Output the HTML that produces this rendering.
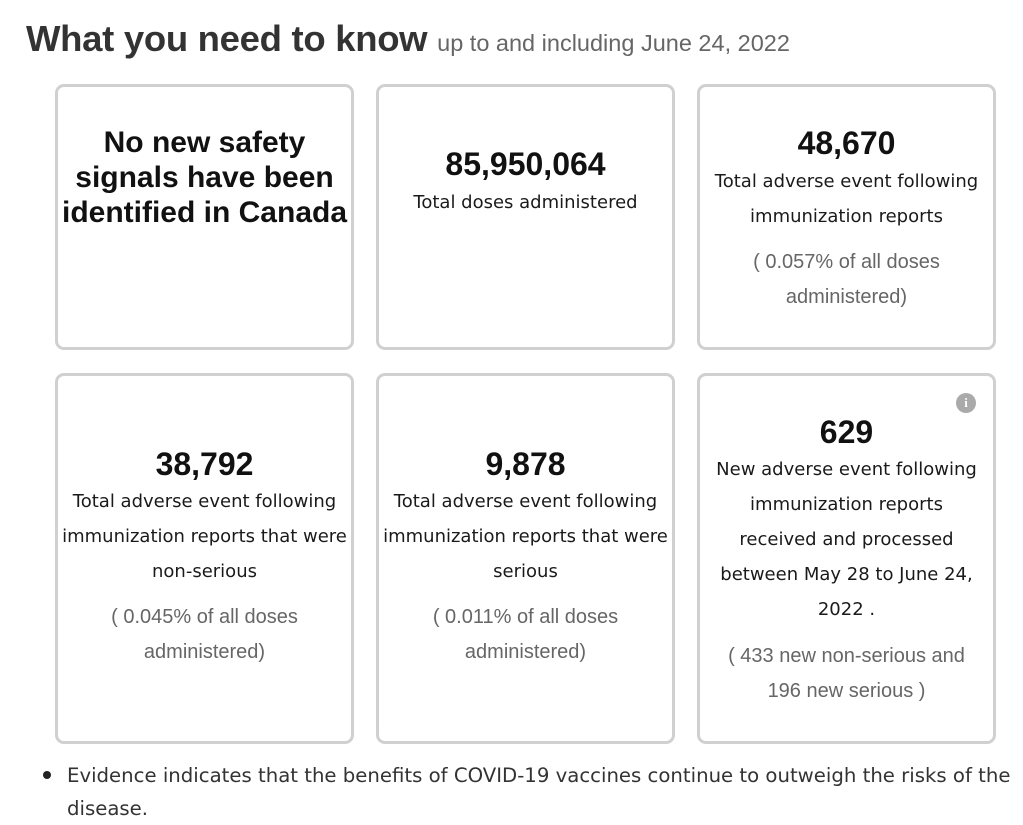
<!DOCTYPE html>
<html><head><meta charset="utf-8"><style>
body{margin:0;width:1023px;height:819px;background:#fff;position:relative;overflow:hidden;font-family:"Liberation Sans",sans-serif;color:#222}
.b{position:absolute;border:3px solid #d0d0d0;border-radius:9px;box-sizing:border-box}
.l{position:absolute;left:0;right:0;text-align:center;white-space:nowrap;font-family:"DejaVu Sans",sans-serif;font-size:18px;line-height:22px;color:#1a1a1a}
.n{font-family:"Liberation Sans",sans-serif;font-weight:bold;font-size:32px;line-height:36px;color:#111}
.g{font-family:"Liberation Sans",sans-serif;color:#666;font-size:20px}
.h{font-family:"Liberation Sans",sans-serif;font-weight:bold;font-size:30px;line-height:35px;color:#111}
.t{position:absolute;white-space:nowrap}
</style></head><body>
<div class="t" style="left:26px;top:18px;font-size:36.5px;font-weight:bold;color:#333;letter-spacing:-0.3px">What you need to know <span style="font-size:23.5px;font-weight:normal;color:#666;letter-spacing:0">up to and including June 24, 2022</span></div>

<div class="b" style="left:55px;top:84px;width:299px;height:266px">
<div class="l h" style="top:38px">No new safety</div>
<div class="l h" style="top:73px">signals have been</div>
<div class="l h" style="top:108px">identified in Canada</div>
</div>
<div class="b" style="left:376px;top:84px;width:299px;height:266px">
<div class="l n" style="top:59px">85,950,064</div>
<div class="l" style="top:105px">Total doses administered</div>
</div>
<div class="b" style="left:697px;top:84px;width:299px;height:266px">
<div class="l n" style="top:38px">48,670</div>
<div class="l" style="top:84px">Total adverse event following</div>
<div class="l" style="top:119px">immunization reports</div>
<div class="l g" style="top:164px">( 0.057% of all doses</div>
<div class="l g" style="top:199px">administered)</div>
</div>

<div class="b" style="left:55px;top:373px;width:299px;height:371px">
<div class="l n" style="top:70px">38,792</div>
<div class="l" style="top:115px">Total adverse event following</div>
<div class="l" style="top:150px">immunization reports that were</div>
<div class="l" style="top:185px">non-serious</div>
<div class="l g" style="top:230px">( 0.045% of all doses</div>
<div class="l g" style="top:265px">administered)</div>
</div>
<div class="b" style="left:376px;top:373px;width:299px;height:371px">
<div class="l n" style="top:70px">9,878</div>
<div class="l" style="top:115px">Total adverse event following</div>
<div class="l" style="top:150px">immunization reports that were</div>
<div class="l" style="top:185px">serious</div>
<div class="l g" style="top:230px">( 0.011% of all doses</div>
<div class="l g" style="top:265px">administered)</div>
</div>
<div class="b" style="left:697px;top:373px;width:299px;height:371px">
<div style="position:absolute;left:256px;top:17px;width:20px;height:20px;border-radius:50%;background:#aaa;color:#fff;font-size:13px;font-weight:bold;text-align:center;line-height:20px;font-family:'Liberation Serif',serif">i</div>
<div class="l n" style="top:38px">629</div>
<div class="l" style="top:83px">New adverse event following</div>
<div class="l" style="top:118px">immunization reports</div>
<div class="l" style="top:153px">received and processed</div>
<div class="l" style="top:188px">between May 28 to June 24,</div>
<div class="l" style="top:223px">2022 .</div>
<div class="l g" style="top:269px">( 433 new non-serious and</div>
<div class="l g" style="top:304px">196 new serious )</div>
</div>

<div style="position:absolute;left:43px;top:771px;width:8px;height:8px;border-radius:50%;background:#222"></div>
<div class="t" style="left:67px;top:759px;font-family:'DejaVu Sans',sans-serif;font-size:19.7px;line-height:33px;color:#333">Evidence indicates that the benefits of COVID-19 vaccines continue to outweigh the risks of the<br>disease.</div>
</body></html>
